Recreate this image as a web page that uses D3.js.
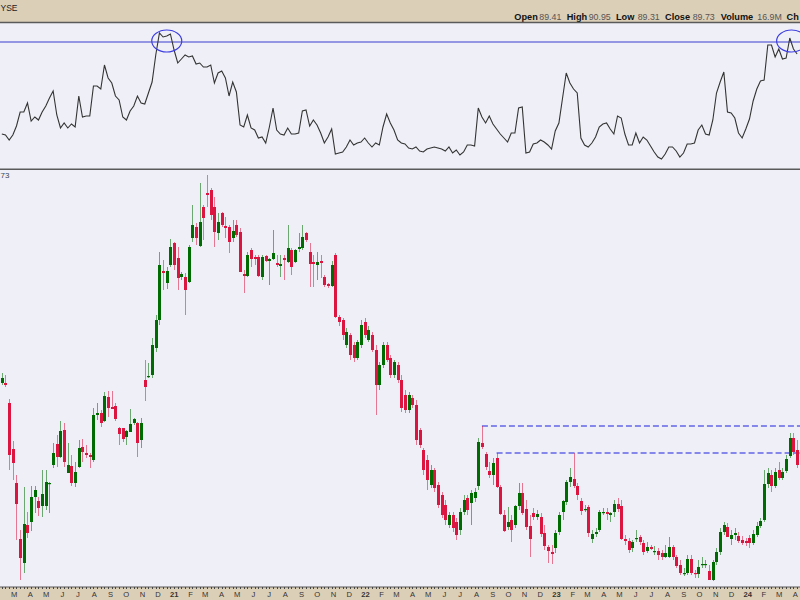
<!DOCTYPE html>
<html><head><meta charset="utf-8">
<script src="https://cdn.jsdelivr.net/npm/d3@7"></script>
<style>body{margin:0;background:#fff;} svg{display:block;font-family:"Liberation Sans",Arial,sans-serif;}</style>
</head><body><svg id="c" width="800" height="600"></svg>
<script>
// ---------------- DATA ----------------
const firstWeek = "2020-02-03";   // weekly bars, Monday of first visible week
const exchangeText = "YSE";       // visible part of the exchange tag
const lastPriceText = "73";       // visible part of the last-price tag
const headerFields = ["Open","High","Low","Close","Volume","Ch"];
const headerValues = ["89.41","90.95","89.31","89.73","16.9M",""];
const monthLetters = ["J","F","M","A","M","J","J","A","S","O","N","D"];

const open = [
103.4,103.4,99.4,90.2,83.4,72.2,67.4,75,75.6,80.6,
79.8,78.8,78.8,83.2,87,91.2,88.6,94,85.4,86.8,
83.4,86.6,90.6,89.4,89,88,97,97.4,95.8,100.6,
98.6,98.8,94.4,94.4,92.6,93.6,95.4,95.4,92,104,
104.6,105,110.4,116,125.8,123.4,127,131.4,128.4,124.6,
124.6,123.6,132.4,134.6,130.8,138.6,141.4,142,138.6,133.4,
137.4,134.8,134.6,132.4,135,133.6,125.2,124.8,130,128.6,
128.6,124.6,128.8,127.8,128.2,127.4,126.8,128.4,127.6,130,
127.6,130.2,130.4,133.4,129.6,127.6,127,127.8,124.6,123.2,
122.8,129,116.6,116,111,113,111,108.4,111,115.6,
112,113,110,103,107,111,108.4,105,107,104,
101,98,100.4,99,94,90,88,83,86,83,
81,79,75,77,75.6,74,77.6,80.4,79.4,80.4,
82.8,91.4,89.2,85.8,85,88.4,82.6,77,74.6,76,
75,78.8,81.4,78.2,74.8,77.4,76.6,76.6,73.4,70.6,
69.6,70.4,73.6,77.6,79.6,83.6,84.2,82.8,79.8,78,
78.6,72.2,73.2,74,77.4,77.6,77,77.6,79.2,78.8,
72.2,71.8,70.4,72.2,72.6,71.4,69.8,70.6,69.6,69.8,
69.4,68.6,68.6,70.6,68.6,67,65.2,65.4,68.2,65.4,
65.2,67,67,65.8,64,67.6,69.6,73.6,74.6,72.2,
73,72.8,72,71.8,72.4,71.4,73,74.8,76,83.2,
85,82.8,86,84.4,85.8,88.8,92.4,90];

const high = [
105.4,105,100.2,91.8,85,74,82.6,77.6,82.8,82.8,
80.6,86,86,83.6,91.4,93,95.8,95.4,91.4,89,
87.6,92,92.2,91,89.4,98.4,99.4,98,101.6,101.8,
101.8,99.4,94.6,94.4,94,98.2,96.4,95.6,96.4,108,
107.4,112.4,117,129.6,128,126.6,132.2,131.6,130.6,125.6,
125.4,131,139,135.4,143.4,139,145,142.4,140.6,137.4,
137.6,136.6,135,136,136,134.4,126,129.6,130.4,129,
129,129,129,128.4,134,129,129,129,135,130.4,
130.2,133.4,135,133.6,131.4,129,129.6,129,125,123.4,
127.8,129.4,117,116.4,114.4,113.4,111.6,112,116,116.4,
114.8,113.6,111,107.6,111.6,111.6,109,108,107.6,105,
102,101.6,101,100,94.4,90.4,89,87,86.4,83.6,
81.6,80,77.6,77.6,76.4,78.4,81,81,82,82.4,
92.4,94.8,89.6,87.6,88.4,89.4,83,78,78.6,77,
79,83.4,83.4,80,77,78.4,78,77.4,75,71,
71,74,77.6,80,84,86.4,89.4,83.4,80.4,79,
79,74,74.4,78,78.4,78.4,77.6,80,80.4,80,
73,72.4,72,74,73,72,71.6,71,70.8,70.4,
70,71,72.6,71,69,68,66.4,69,69,66,
68,68.6,68,67,68,70.4,74.4,75.6,75.4,74,
74.4,73.6,72.8,72.4,73,74,75.6,76.4,86,86.4,
86,86.4,87.6,86.4,89,93.4,93.4,92];

const low = [
103,102.6,86,84,72,64,65.4,72.4,73.8,77.4,
76.8,76.6,78,77.4,86.4,86.6,88.4,86.6,85.4,82.8,
82.6,86.4,87.6,88.4,86.4,87.6,96,94.6,95.6,96.6,
98.2,95.8,91,91.6,91,93.6,95,88.6,90.4,99.8,
104.4,104.4,109.6,115,122,122.2,126.6,126,122,124,
117,123.4,131.6,131,130.6,132,138.6,136,130.6,132,
134.6,132.4,129.4,131.6,132.6,125.6,121.4,124.6,126.6,127,
124.6,124,127.6,123,128,126.6,124.6,124,127.4,125,
127.4,129.6,130,131.6,122.6,122.6,124,124.4,122.6,122.4,
122.6,116.4,114.8,112,110.4,108,107.6,108,110.4,112.4,
111.6,109.6,97,102,106.4,107.6,104.4,104.4,103.4,97.6,
97.4,97.4,98.4,91,90.4,85,82,82.4,81.6,78.4,
76.4,75,74.4,73.6,72,73,77,77,75,79.6,
82,90.2,86,84.4,83,82.4,77,73.6,74,71.6,
74.4,78,77,74,68.6,76,76,72.6,70,67.4,
67.2,69.4,73,76,79,82.6,82.4,80,77,77.6,
72.6,71.4,72.6,73.6,77,76,75.6,76.6,77.6,72,
71,69.4,69.6,71.6,71,69,69.4,70,69,68,
68,68.4,68.4,68,66.4,65,64.8,65,65,64.4,
64.4,66.4,66.4,64,63.8,67,69,73,72.6,71,
72,71.4,71,70.8,70.4,71,72.6,74.4,75.6,82.4,
81.6,82.4,84,84,85.4,88.4,89,86.4];

const close = [
104.4,103,89,87.4,79.2,68.4,75.2,73.4,80.6,82,
78.4,81.2,83.6,83.4,89.4,88.6,93.8,87.6,87,83.4,
85.6,90.4,89.6,89,88.6,97,97.4,95.4,100.8,98.4,
98.2,96.2,93.2,92.2,93.8,95.2,96.2,91.4,95.4,102.6,
104.8,111,116,127,125.4,125.8,130.6,127,124.4,125.2,
122,130.6,135,132.4,135.6,136.4,141,137,133.6,135.6,
135,134.4,131.6,133.8,133,125.6,124.8,129,128.2,128.2,
124.8,128.6,127.8,128.2,129.4,127,127.2,128,130.4,126.6,
130,130.6,132.6,132,127.2,127.2,127.6,127.4,123,122.8,
127,116.6,115.6,113,113.6,109,108.4,111.6,115,113,
114,110,103,107,111,108,105,107.6,104,98.4,
98,101,99,92,91,86,84,86,82.4,79,
77,76,77,74.4,73,77.6,80,78,81.4,81.6,
91.6,90.6,86.6,85,87.4,82.6,77.2,73.8,75.6,74,
78.8,81.4,77.4,74.6,72.2,76.6,77.2,73.2,70.8,69.8,
69.2,73.4,77,79.8,83.6,84.6,82.8,81,77.8,78.2,
73.4,73.2,73.6,77.6,77.6,77.2,77.4,79.2,78.2,72.2,
71.8,70,71.6,72.4,71.6,69.6,70.6,70.2,69.8,69,
68.6,69.4,70.6,68.6,66.8,65.4,65.4,68.2,65.4,65.2,
66.6,67.2,67.2,64,67.6,69.6,73.6,75,72.6,73,
73.4,71.8,71.4,71.4,71.4,73.2,74.8,75.8,83.2,85.4,
82.8,85.6,84.4,85.6,88.2,92.4,89.6,87];

const indicator = [
38,37,32,37,46,60,60,69,
51,55,52,60,66,74,81,57,44,49,
44,48,45,76,55,56,56,86,86,83,
107,94,89,76,72,55,52,61,66,76,
69,68,79,90,117,139,135,136,138,122,
109,113,117,115,116,108,109,105,105,107,
89,99,101,94,76,90,80,47,45,57,
44,42,34,35,29,45,64,42,38,37,
44,38,38,39,61,62,46,52,47,39,
29,35,43,18,19,20,25,32,27,29,
30,34,29,25,29,27,45,58,49,42,
32,
29,28,24,23,25,21,20,23,24,25,
24,23,21,25,19,22,17,20,27,27,
26,64,55,49,56,48,43,38,34,30,
39,39,64,65,19,20,28,29,32,30,
27,23,41,49,74,99,89,83,79,34,
27,25,29,35,45,48,49,43,38,56,
54,38,27,27,39,29,35,32,26,20,
15,13,18,25,25,21,15,19,28,28,
29,42,47,38,37,52,79,90,100,60,
59,54,39,34,43,53,71,83,91,92,
127,127,115,123,113,114,134,123,118];

const indicatorLevel = 130;
const markedPeaks = [ {bar:45, value:131}, {bar:215.5, value:131} ];
const resistanceFrom = [131, 135];
const resistanceLevel = [94.8, 89.4];

// ---------------- DRAW ----------------
const svg = d3.select("#c");
const W = 800, H = 600;
const tan = "#dccfb8", panelBg = "#eff0f7", frame = "#5a5a5a";
const upCol = "#006b00", dnCol = "#dc1440";

const t0 = d3.utcParse("%Y-%m-%d")(firstWeek);
const weeks = d3.range(open.length).map(i => d3.utcDay.offset(t0, 7*i));
const x = d3.scaleUtc().domain([t0, d3.utcDay.offset(t0, 1528)]).range([0, W]);
const xc = i => x(d3.utcHour.offset(weeks[0], Math.round(i*168 + 84)));
const y = d3.scaleLinear().domain([62.6, 145.6]).range([587, 172]);
const yi = d3.scaleLinear().domain([0, 150]).range([172, 22]);

// backgrounds
svg.append("rect").attr("width",W).attr("height",H).attr("fill",panelBg);
svg.append("rect").attr("width",W).attr("height",22).attr("fill",tan);
svg.append("rect").attr("y",587).attr("width",W).attr("height",13).attr("fill",tan);

// header text
svg.append("text").attr("x",0.5).attr("y",10.5).attr("font-size",8.5).attr("fill","#222").text(exchangeText);
const labelX = [514.3, 566.7, 616, 665, 720.7, 786.5];
const valueX = [539.3, 588.7, 637.7, 692.7, 757.3, 0];
headerFields.forEach((f,i)=>{
  svg.append("text").attr("x",labelX[i]).attr("y",20.3).attr("font-size",9.2).attr("font-weight","bold").attr("fill","#111").text(f);
  if (headerValues[i]) {
    svg.append("text").attr("x",valueX[i]).attr("y",20.3).attr("font-size",8.8).attr("fill","#555").text(headerValues[i]);
  }
});

// panel frames
svg.append("line").attr("x1",0).attr("x2",W).attr("y1",22.5).attr("y2",22.5).attr("stroke",frame).attr("stroke-width",1.6);
svg.append("line").attr("x1",0).attr("x2",W).attr("y1",169.3).attr("y2",169.3).attr("stroke",frame).attr("stroke-width",1.6);
svg.append("line").attr("x1",0).attr("x2",W).attr("y1",587).attr("y2",587).attr("stroke",frame).attr("stroke-width",1);

// clip paths
const defs = svg.append("defs");
defs.append("clipPath").attr("id","cpTop").append("rect").attr("x",0).attr("y",23.3).attr("width",W).attr("height",145.2);
defs.append("clipPath").attr("id","cpMain").append("rect").attr("x",0).attr("y",170.2).attr("width",W).attr("height",416.5);

// indicator panel
const gTop = svg.append("g").attr("clip-path","url(#cpTop)");
gTop.append("line").attr("x1",0).attr("x2",W).attr("y1",yi(indicatorLevel)).attr("y2",yi(indicatorLevel))
  .attr("stroke","#3a3ad0").attr("stroke-width",1.1);
gTop.append("path").datum(indicator)
  .attr("d", d3.line().x((d,i)=>xc(i)).y(d=>yi(d)))
  .attr("fill","none").attr("stroke","#333").attr("stroke-width",1.1);
gTop.selectAll("ellipse").data(markedPeaks).join("ellipse")
  .attr("cx",d=>xc(d.bar)).attr("cy",d=>yi(d.value)).attr("rx",15).attr("ry",11)
  .attr("fill","none").attr("stroke","#3d3de0").attr("stroke-width",1.2);

// main panel
svg.append("text").attr("x",0.5).attr("y",177.6).attr("font-size",8).attr("fill","#444").text(lastPriceText);
const gMain = svg.append("g").attr("clip-path","url(#cpMain)");
resistanceFrom.forEach((b,k)=>{
  gMain.append("line").attr("x1",xc(b)).attr("x2",W).attr("y1",y(resistanceLevel[k])).attr("y2",y(resistanceLevel[k]))
    .attr("stroke","#6464e6").attr("stroke-width",1.3).attr("stroke-dasharray","6,3");
});
const bars = gMain.selectAll("g.bar").data(d3.range(open.length)).join("g").attr("class","bar");
const col = i => close[i] >= open[i] ? upCol : dnCol;
bars.append("line")
  .attr("x1",i=>Math.round(xc(i))+0.5).attr("x2",i=>Math.round(xc(i))+0.5)
  .attr("y1",i=>y(high[i])).attr("y2",i=>y(low[i]))
  .attr("stroke",col).attr("stroke-opacity",0.55).attr("stroke-width",1);
bars.append("rect")
  .attr("x",i=>Math.round(xc(i))-1).attr("width",3)
  .attr("y",i=>y(Math.max(open[i],close[i])))
  .attr("height",i=>Math.max(1.2, Math.abs(y(open[i])-y(close[i]))))
  .attr("fill",col);

// x axis
const gx = svg.append("g");
gx.selectAll("line.tk").data(weeks).join("line").attr("class","tk")
  .attr("x1",(d,i)=>Math.round(xc(i))+0.5).attr("x2",(d,i)=>Math.round(xc(i))+0.5)
  .attr("y1",587).attr("y2",589).attr("stroke","#444").attr("stroke-width",1);
const months = d3.utcMonths(t0, x.domain()[1]);
gx.selectAll("text").data(months).join("text")
  .attr("x",d=>x(d)).attr("y",596.5).attr("text-anchor","middle")
  .attr("font-size",7.6).attr("fill","#333")
  .attr("font-weight",d=>d.getUTCMonth()===0?"bold":"normal")
  .text(d=>d.getUTCMonth()===0 ? String(d.getUTCFullYear()).slice(2) : monthLetters[d.getUTCMonth()]);
</script></body></html>
